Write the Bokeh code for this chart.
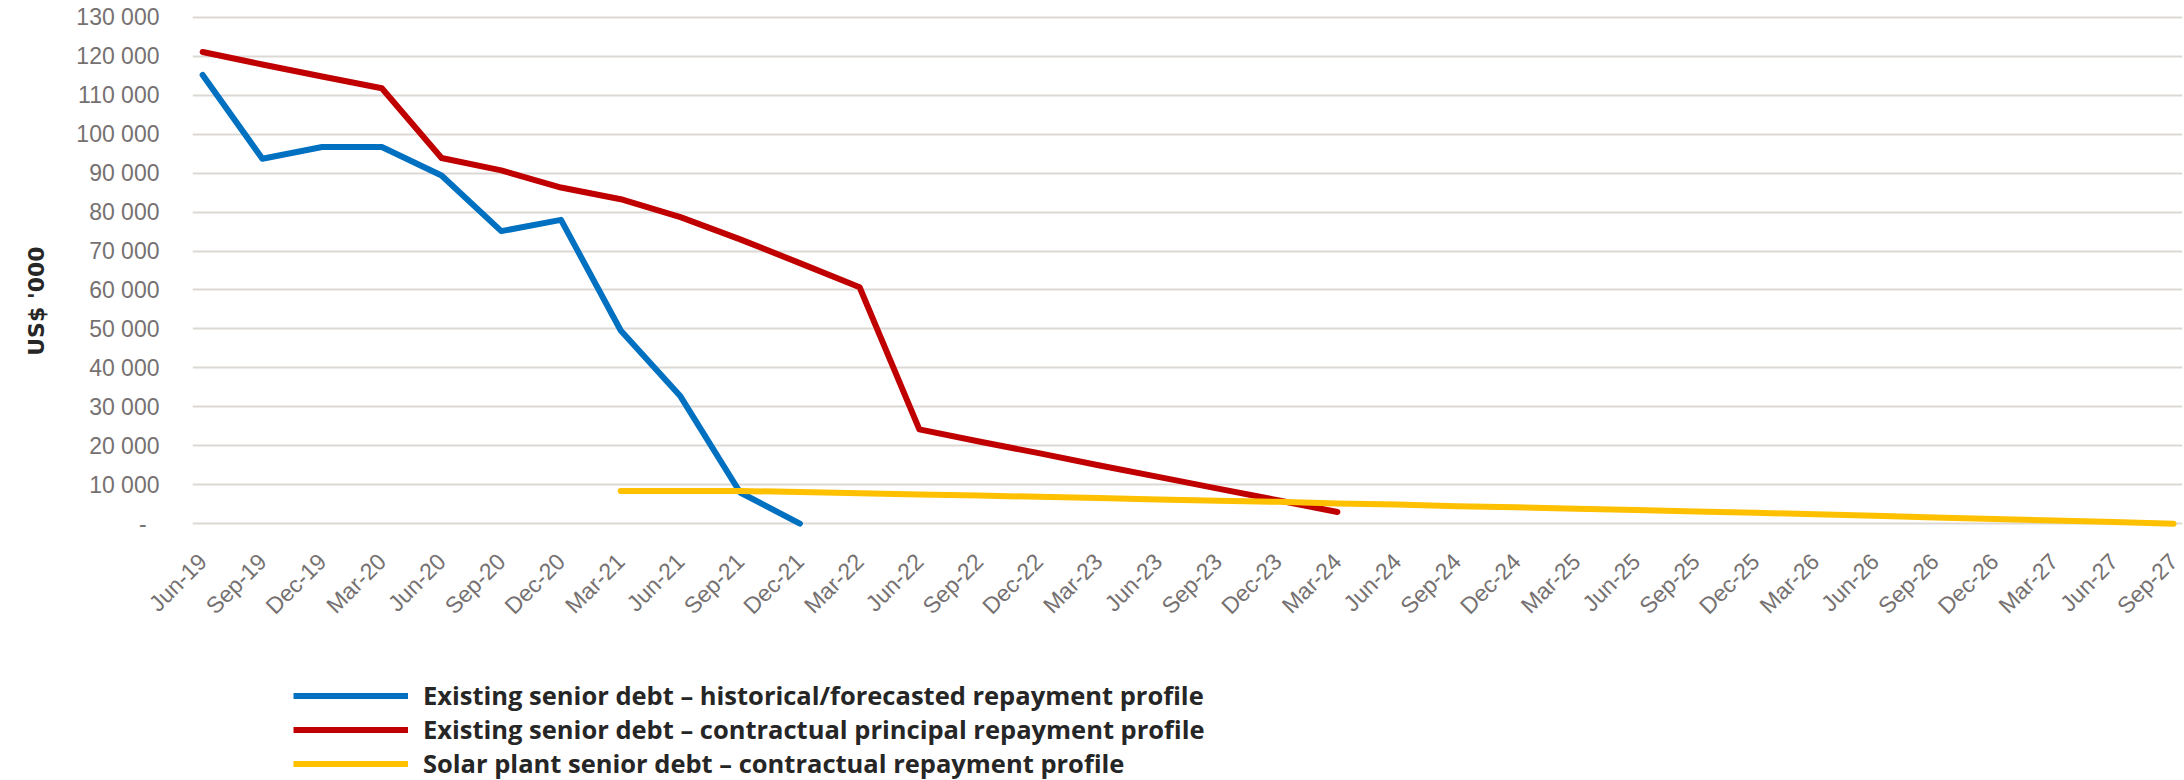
import math
from bokeh.plotting import figure
from bokeh.layouts import column
from bokeh.models import FixedTicker, Legend, LegendItem
from bokeh.embed import file_html
from bokeh.resources import INLINE

quarters = ["Jun-19", "Sep-19", "Dec-19", "Mar-20", "Jun-20", "Sep-20", "Dec-20",
            "Mar-21", "Jun-21", "Sep-21", "Dec-21", "Mar-22", "Jun-22", "Sep-22",
            "Dec-22", "Mar-23", "Jun-23", "Sep-23", "Dec-23", "Mar-24", "Jun-24",
            "Sep-24", "Dec-24", "Mar-25", "Jun-25", "Sep-25", "Dec-25", "Mar-26",
            "Jun-26", "Sep-26", "Dec-26", "Mar-27", "Jun-27", "Sep-27"]

# Existing senior debt – historical/forecasted (Jun-19 .. Dec-21)
blue_start = "Jun-19"
blue_values = [115200, 93700, 96700, 96700, 89400, 75100, 78000, 49600, 32700, 8000, 0]

# Existing senior debt – contractual principal (Jun-19 .. Mar-24)
red_start = "Jun-19"
red_values = [121100, 117900, 114800, 111800, 93900, 90700, 86300, 83300, 78700,
              73000, 66900, 60700, 24200, 21100, 18100, 15000, 12000, 9000, 6000, 3000]

# Solar plant senior debt – contractual (Mar-21 .. Sep-27)
yellow_start = "Mar-21"
yellow_values = [8400, 8400, 8400, 8100, 7800, 7500, 7200, 6900, 6600, 6200, 5900,
                 5600, 5200, 4900, 4500, 4200, 3800, 3500, 3100, 2800, 2400, 2000,
                 1600, 1200, 800, 400, 0]

series_names = ["Existing senior debt \u2013 historical/forecasted repayment profile",
                "Existing senior debt \u2013 contractual principal repayment profile",
                "Solar plant senior debt \u2013 contractual repayment profile"]
series_colors = ["#0070C0", "#C00000", "#FFC000"]

y_ticks = [0, 10000, 20000, 30000, 40000, 50000, 60000, 70000, 80000, 90000,
           100000, 110000, 120000, 130000]
y_title = "US$ '000"

LINE_W = 6

p = figure(width=2184, height=640, output_backend="svg", toolbar_location=None,
           x_range=(-0.17, 33.15), y_range=(-1500, 131500),
           min_border_left=192, min_border_right=2, min_border_top=11,
           min_border_bottom=111)
p.outline_line_color = None
p.background_fill_color = "white"
p.border_fill_color = "white"

def xs_for(start, n):
    i0 = quarters.index(start)
    return list(range(i0, i0 + n))

series = [(blue_start, blue_values, series_colors[0]),
          (red_start, red_values, series_colors[1]),
          (yellow_start, yellow_values, series_colors[2])]

for start, vals, col in series:
    p.line(xs_for(start, len(vals)), vals, line_color=col, line_width=LINE_W,
           line_cap="round", line_join="round")

# x axis
p.xaxis.ticker = FixedTicker(ticks=list(range(len(quarters))))
p.xaxis.major_label_overrides = {i: q for i, q in enumerate(quarters)}
p.xaxis.major_label_orientation = math.pi / 4
p.xaxis.major_label_text_font = "Liberation Sans"
p.xaxis.major_label_text_font_size = "23px"
p.xaxis.major_label_text_color = "#767171"
p.xaxis.axis_line_color = None
p.xaxis.major_tick_line_color = None
p.xaxis.minor_tick_line_color = None
p.xaxis.major_label_standoff = 22
p.xgrid.grid_line_color = None

# y axis
p.yaxis.ticker = FixedTicker(ticks=y_ticks)
ov = {v: f"{v:,}".replace(",", " ") for v in y_ticks}
ov[0] = "-\u2007"
p.yaxis.major_label_overrides = ov
p.yaxis.major_label_text_font = "Liberation Sans"
p.yaxis.major_label_text_font_size = "23px"
p.yaxis.major_label_text_color = "#767171"
p.yaxis.axis_line_color = None
p.yaxis.major_tick_line_color = None
p.yaxis.minor_tick_line_color = None
p.yaxis.major_label_standoff = 27
p.yaxis.axis_label = y_title + "\u2007" * 4
p.yaxis.axis_label_standoff = 24
p.yaxis.axis_label_text_font = "DejaVu Sans"
p.yaxis.axis_label_text_font_style = "bold"
p.yaxis.axis_label_text_font_size = "22px"
p.yaxis.axis_label_text_color = "#262626"
p.ygrid.grid_line_color = "#dcd9d5"
p.ygrid.grid_line_width = 2

# legend strip below the chart (its lines sit outside the strip's view; only the legend shows)
lg = figure(width=2184, height=140, output_backend="svg", toolbar_location=None,
            x_axis_type=None, y_axis_type=None, x_range=(-0.17, 33.15),
            y_range=(-3e6, -2e6), min_border_left=192, min_border_right=2,
            min_border_top=0, min_border_bottom=0)
lg.outline_line_color = None
lg.grid.grid_line_color = None
lg_renderers = [lg.line(xs_for(s, len(v)), v, line_color=c, line_width=LINE_W)
                for s, v, c in series]

legend = Legend(items=[LegendItem(label=n, renderers=[r]) for n, r in zip(series_names, lg_renderers)],
                location=(101, 0), orientation="vertical",
                glyph_width=115, glyph_height=33, label_height=33, spacing=0,
                padding=0, margin=0, label_standoff=15,
                border_line_color=None, background_fill_alpha=0,
                label_text_font="Open Sans", label_text_font_style="bold",
                label_text_font_size="25.5px", label_text_color="#262626")
lg.add_layout(legend)

layout = column(p, lg, spacing=0)
open("out.html", "w").write(file_html(layout, INLINE))
